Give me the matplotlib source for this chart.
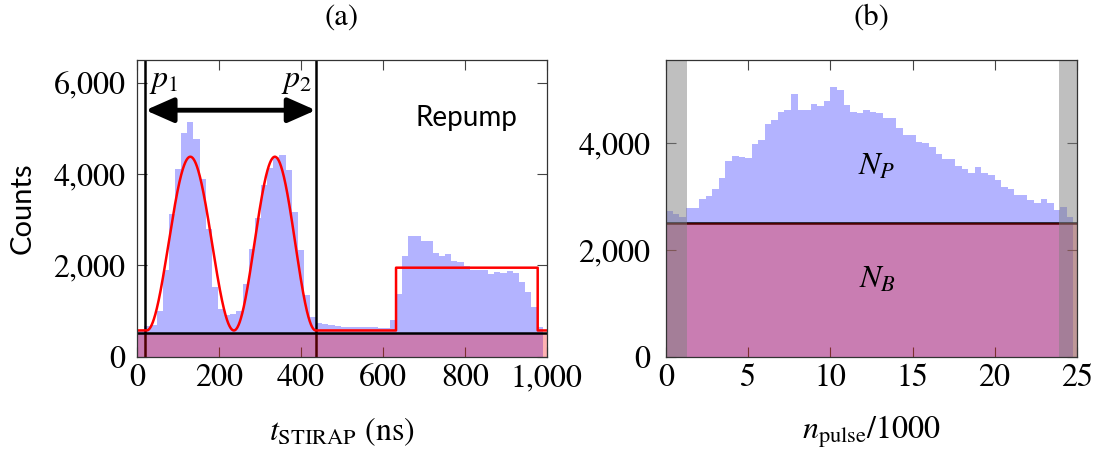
import numpy as np
import matplotlib
matplotlib.use("Agg")
import matplotlib.pyplot as plt
from matplotlib.ticker import FuncFormatter, MultipleLocator

plt.rcParams['font.family'] = ['STIXGeneral', 'DejaVu Serif']
plt.rcParams['mathtext.fontset'] = 'stix'

# ---------------- data: panel (a) ----------------
a_first_edge = 2.0      # ns
a_bin_width = 15.0      # ns
a_counts = [560, 680, 700, 1001, 1899, 3119, 4105, 4907, 5148, 4762,
            3886, 2791, 1533, 1038, 913, 928, 1008, 1600, 2350, 3031,
            3761, 4127, 4381, 4418, 4090, 3177, 2337, 1351, 876, 731,
            720, 694, 680, 657, 650, 643, 643, 650, 650, 625,
            621, 804, 1373, 2213, 2644, 2644, 2534, 2534, 2278, 2213,
            2243, 2103, 2067, 1987, 1899, 1899, 1899, 1812, 1848, 1841,
            1870, 1826, 1643, 1410, 1095, 644]
a_background = 525
p1_time = 20
p2_time = 436
fit_baseline = 575
fit_hump_start = [23, 236]
fit_hump_end = [236, 436]
fit_hump_amp = [3806, 3806]
fit_exponent = 2.0
repump_start = 632
repump_end = 978
repump_level = 1950

# ---------------- data: panel (b) ----------------
b_bin_width = 0.4       # thousands of pulses
b_counts = [2723, 2661, 2617, 2773, 2773, 2941, 3010, 3134, 3334, 3658,
            3745, 3739, 3720, 3976, 4050, 4349, 4437, 4580, 4623, 4922,
            4623, 4611, 4735, 4692, 4779, 5047, 4985, 4704, 4573, 4561,
            4617, 4580, 4561, 4468, 4468, 4281, 4144, 4144, 4013, 4000,
            3926, 3795, 3689, 3689, 3564, 3508, 3427, 3540, 3427, 3390,
            3303, 3178, 3134, 3022, 3016, 2929, 2873, 2948, 2873, 2742,
            2792, 2617]
b_background = 2500
b_excluded = [(0.0, 1.25), (23.95, 25.0)]

BAR_COLOR = '#b3b3ff'
SERIF_SIZE = 23

fig = plt.figure(figsize=(11.02, 4.5), dpi=100)
ax1 = fig.add_axes([137.3/1102, 1-356.7/450, (546.7-137.3)/1102, (356.7-60)/450])
ax2 = fig.add_axes([666.3/1102, 1-356.7/450, (1076.7-666.3)/1102, (356.7-60)/450])

comma = FuncFormatter(lambda v, p: f'{int(round(v)):,}')

# ---------------- panel (a) ----------------
a_edges = a_first_edge + a_bin_width*np.arange(len(a_counts)+1)
ax1.stairs(a_counts, a_edges, fill=True, color=BAR_COLOR, lw=0, zorder=1)
for pt in (p1_time, p2_time):
    ax1.axvline(pt, color='black', lw=1.8, zorder=2)
ax1.fill_between([0, 1000], 0, a_background, color='red', alpha=0.3, lw=0, zorder=3)
ax1.axhline(a_background, color='black', lw=1.8, zorder=4)

# fitted model (red)
t_fit = np.linspace(0, p2_time, 1200)
y_fit = np.full_like(t_fit, fit_baseline, dtype=float)
for s, e, A in zip(fit_hump_start, fit_hump_end, fit_hump_amp):
    m = (t_fit >= s) & (t_fit <= e)
    y_fit[m] += A*np.abs(np.sin(np.pi*(t_fit[m]-s)/(e-s)))**fit_exponent
x_red = np.concatenate([t_fit, [repump_start, repump_start, repump_end, repump_end, 1000]])
y_red = np.concatenate([y_fit, [fit_baseline, repump_level, repump_level, fit_baseline, fit_baseline]])
ax1.plot(x_red, y_red, color='red', lw=1.8, zorder=5, clip_on=True)

ax1.annotate('', xy=(p2_time, 5400), xytext=(p1_time, 5400),
             arrowprops=dict(arrowstyle='<|-|>,head_length=1.7,head_width=0.75',
                             lw=3.5, color='black', shrinkA=0, shrinkB=0),
             zorder=6)
ax1.text(65, 6030, r'$p_1$', ha='center', va='center', fontsize=SERIF_SIZE, zorder=7)
ax1.text(389, 6030, r'$p_2$', ha='center', va='center', fontsize=SERIF_SIZE, zorder=7)
ax1.text(805, 5230, 'Repump', ha='center', va='center', fontsize=20, family='Lato', zorder=7)

ax1.set_xlim(0, 1000)
ax1.set_ylim(0, 6500)
ax1.xaxis.set_major_locator(MultipleLocator(200))
ax1.yaxis.set_major_locator(MultipleLocator(2000))
ax1.xaxis.set_major_formatter(comma)
ax1.yaxis.set_major_formatter(comma)

# ---------------- panel (b) ----------------
b_edges = b_bin_width*np.arange(len(b_counts)+1)
ax2.stairs(b_counts, b_edges, fill=True, color=BAR_COLOR, lw=0, zorder=1)
ax2.axhline(b_background, color='black', lw=1.8, zorder=2)
ax2.fill_between([0, 25], 0, b_background, color='red', alpha=0.3, lw=0, zorder=3)
for lo, hi in b_excluded:
    ax2.axvspan(lo, hi, color='gray', alpha=0.5, lw=0, zorder=4)
ax2.text(12.85, 3550, r'$N_P$', ha='center', va='center', fontsize=SERIF_SIZE, zorder=7)
ax2.text(12.85, 1434, r'$N_B$', ha='center', va='center', fontsize=SERIF_SIZE, zorder=7)

ax2.set_xlim(0, 25)
ax2.set_ylim(0, 5550)
ax2.xaxis.set_major_locator(MultipleLocator(5))
ax2.yaxis.set_major_locator(MultipleLocator(2000))
ax2.xaxis.set_major_formatter(FuncFormatter(lambda v, p: f'{int(round(v))}'))
ax2.yaxis.set_major_formatter(comma)

for ax, ypad in ((ax1, 8.5), (ax2, 11.5)):
    ax.tick_params(direction='in', top=True, right=True, length=7, width=0.8,
                   color='#444444', labelsize=SERIF_SIZE)
    ax.tick_params(axis='x', pad=5)
    ax.tick_params(axis='y', pad=ypad)
    for sp in ax.spines.values():
        sp.set_linewidth(0.9)
        sp.set_color('#333333')
        sp.set_zorder(10)

fig.text(341.5/1102, 1-18/450, '(a)', ha='center', va='center', fontsize=22)
fig.text(871.5/1102, 1-18/450, '(b)', ha='center', va='center', fontsize=22)
fig.text(23/1102, 1-208/450, 'Counts', rotation=90, ha='center', va='center',
         fontsize=21, family='Lato')
fig.text(341.5/1102, 1-432/450, r'$t_{\mathrm{STIRAP}}$ (ns)', ha='center', va='center',
         fontsize=SERIF_SIZE)
fig.text(871.5/1102, 1-432/450, r'$n_{\mathrm{pulse}}/1000$', ha='center', va='center',
         fontsize=SERIF_SIZE)

fig.savefig('out.png', dpi=100)
